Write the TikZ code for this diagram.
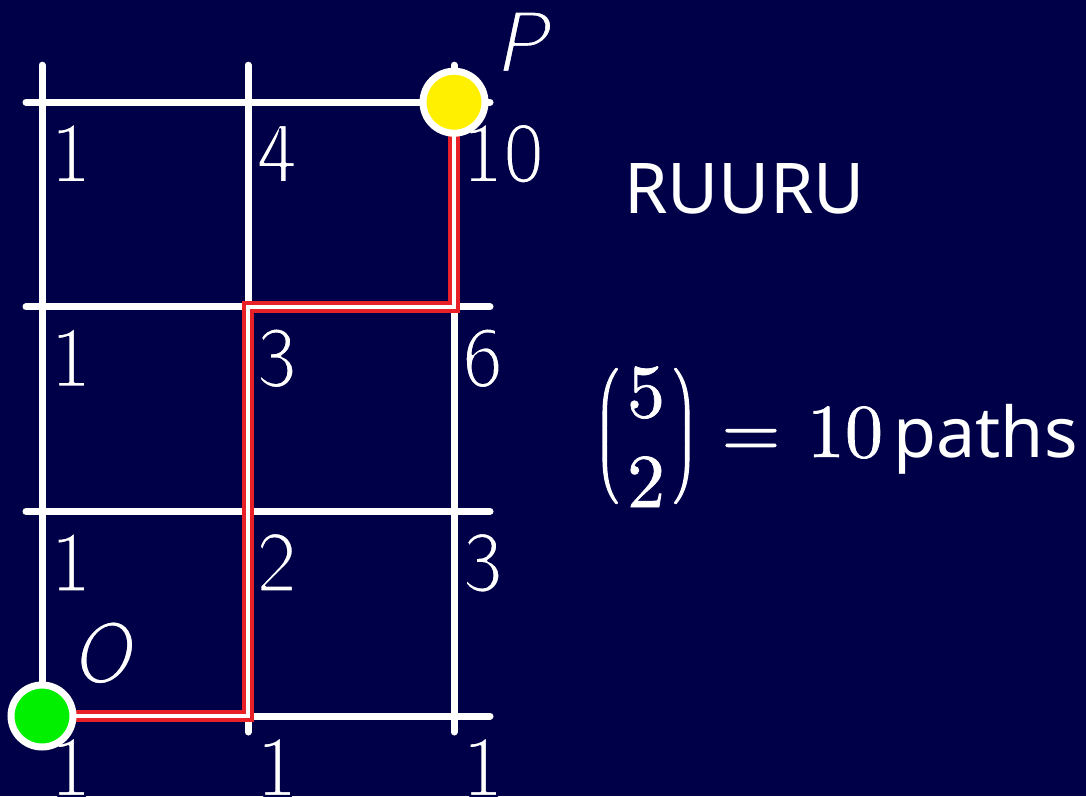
\RequirePackage{fix-cm}
\documentclass[tikz,border=0pt]{standalone}
\usepackage{amsmath}
\usepackage{fontspec}
\newfontfamily\notosans{Noto Sans}
\newfontfamily\lmten{lmroman10-regular.otf}
\usetikzlibrary{calc}
\definecolor{bgnavy}{RGB}{0,0,72}
\definecolor{pathred}{RGB}{232,32,40}
\definecolor{ptyellow}{RGB}{255,240,0}
\definecolor{ptgreen}{RGB}{0,240,0}
% thin the strokes of a text by outlining it in the background colour
\newcommand\thinned[1]{\special{pdf:literal direct 1 j 2.2 w 0 0 0.282 RG 2 Tr}#1\special{pdf:literal direct 0 Tr}}
% thicken the strokes of a text by outlining it in white
\newcommand\thickened[2]{\special{pdf:literal direct 1 j #1 w 1 1 1 RG 2 Tr}#2\special{pdf:literal direct 0 Tr}}
\begin{document}
\begin{tikzpicture}[x=1pt,y=-1pt,
  gridline/.style={white, line width=7pt, line cap=round},
  pathline/.style={draw=pathred, line width=4pt, double=white, double distance=4pt},
  numlabel/.style={anchor=base west, inner sep=0pt, text=white, font=\fontsize{87}{90}\selectfont\sffamily},
  ptlabel/.style={anchor=base west, inner sep=0pt, text=white, font=\fontsize{87}{90}\selectfont\sffamily\itshape},
  endpoint/.style={circle, draw=white, line width=7pt, minimum size=62pt, inner sep=0pt},
  sidetext/.style={anchor=base west, inner sep=0pt, text=white},
  mathpart/.style={anchor=base, inner sep=0pt, text=white, font=\fontsize{76}{80}\selectfont\lmten},
  paren/.style={inner sep=0pt, text=white, font=\fontsize{70}{80}\selectfont}
]
\fill[bgnavy] (0,0) rectangle (1086,796);
\useasboundingbox (0,0) rectangle (1086,796);
% grid points
\foreach \c in {0,1,2}
  \foreach \r in {0,1,2,3}
    \coordinate (g-\c-\r) at ({42+206*\c},{716-204.6*\r});
% grid lines
\foreach \c in {0,1,2} {
  \coordinate (top-\c) at ($(g-\c-3)+(0,-37)$);
  \coordinate (bot-\c) at ($(g-\c-0)+(0,16)$);
  \draw[gridline] (top-\c) -- (bot-\c);
}
\foreach \r in {0,1,2,3} {
  \coordinate (lft-\r) at ($(g-0-\r)+(-16,0)$);
  \coordinate (rgt-\r) at ($(g-2-\r)+(36,0)$);
  \draw[gridline] (lft-\r) -- (rgt-\r);
}
% red path on top of grid
\draw[pathline] (g-0-0) -- (g-1-0) -- (g-1-2) -- (g-2-2) -- (g-2-3);
% counts
\foreach \c/\r/\v in {0/3/1,1/3/4,2/3/10,0/2/1,1/2/3,2/2/6,0/1/1,1/1/2,2/1/3,0/0/1,1/0/1,2/0/1}
  \node[numlabel] (n-\c-\r) at ($(g-\c-\r)+(8,80)$) {\thinned{\v}};
% end points
\node[endpoint, fill=ptyellow] (P) at (g-2-3) {};
\node[endpoint, fill=ptgreen] (O) at (g-0-0) {};
\node[ptlabel] (Plab) at (494,72) {\thinned{P}};
\node[ptlabel] (Olab) at (70,683) {\thinned{O}};
% right side text
\node[sidetext, font=\fontsize{70}{80}\selectfont\notosans] (word) at (624,213) {RUURU};
\node[paren] (lpar) at (607,436) {\thickened{1.8}{$\Big($}};
\node[mathpart] (five) at (646,417) {\thickened{0.7}{5}};
\node[mathpart] (two) at (646,507) {\thickened{0.7}{2}};
\node[paren] (rpar) at (685,436) {\thickened{1.8}{$\Big)$}};
\node[mathpart] (eq) at (751,457) {\thickened{0.7}{=}};
\node[mathpart] (ten) at (845,457) {\thickened{0.7}{10}};
\node[sidetext, font=\fontsize{70}{80}\selectfont\notosans] (paths) at (893,457) {paths};
\end{tikzpicture}
\end{document}
